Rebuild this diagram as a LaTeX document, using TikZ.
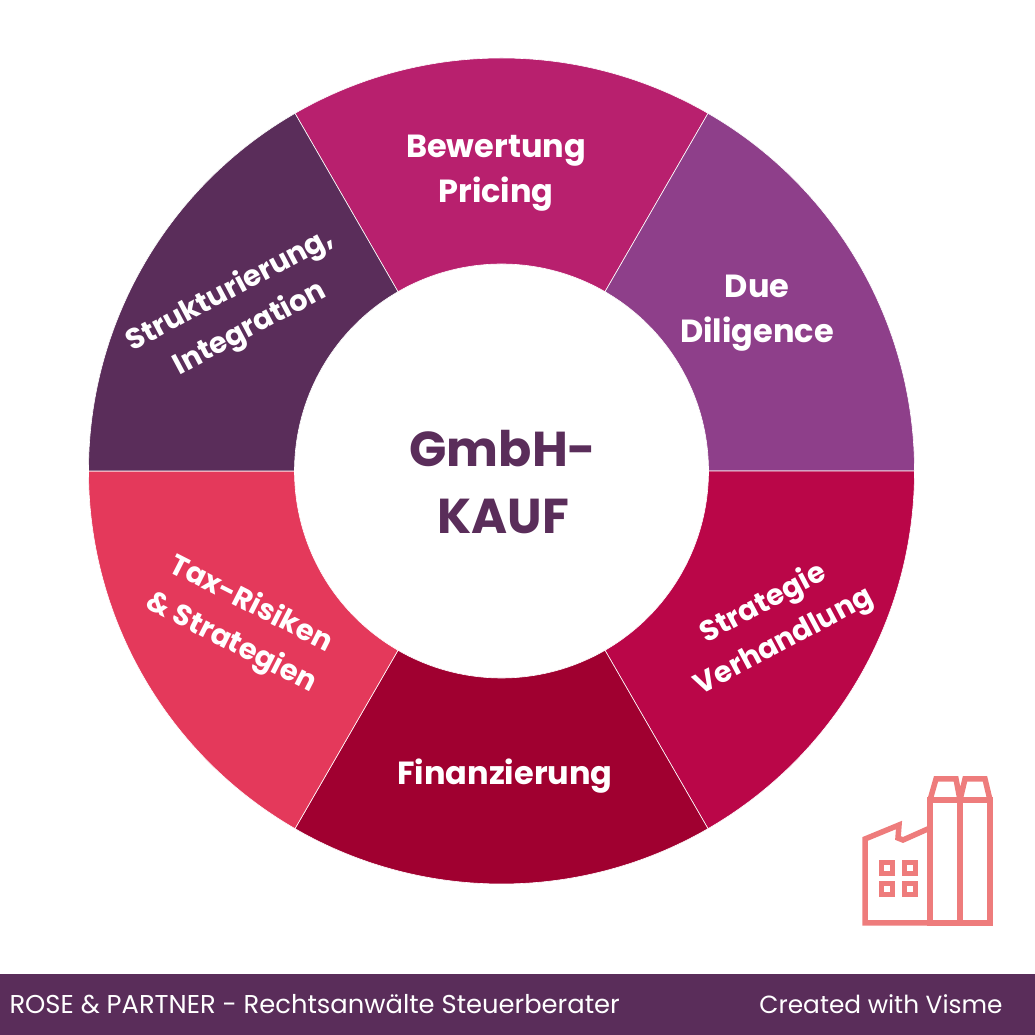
\documentclass[tikz,border=0pt]{standalone}
\usepackage{fontspec}
\setmainfont{Poppins}
\usetikzlibrary{calc}
\definecolor{plum}{HTML}{5A2D5A}
\definecolor{magenta}{HTML}{B8206E}
\definecolor{violet}{HTML}{8E3F8A}
\definecolor{crimson}{HTML}{BA0648}
\definecolor{wine}{HTML}{A00030}
\definecolor{coral}{HTML}{E4395B}
\definecolor{salmon}{HTML}{EE7C7C}
\begin{document}
\begin{tikzpicture}[x=1pt, y=1pt,
        segment/.style = {draw = white, line width = 0.6pt},
        label/.style = {text = white, align = center, font = \fontsize{32}{45}\selectfont\bfseries},
        tilted/.style = {text = white, align = center, font = \fontsize{29}{43}\selectfont\bfseries},
        icon/.style = {draw = salmon, line width = 5.5pt, miter limit = 4}]
    \useasboundingbox[] (0,0) rectangle (1035,1035);

    \coordinate (O) at (501.5,564);

    % ring
    \fill[magenta, segment] ($(O)+(60:413)$) arc (60:120:413) -- ($(O)+(120:207)$) arc (120:60:207) -- cycle;
    \fill[violet, segment] ($(O)+(0:413)$) arc (0:60:413) -- ($(O)+(60:207)$) arc (60:0:207) -- cycle;
    \fill[crimson, segment] ($(O)+(-60:413)$) arc (-60:0:413) -- ($(O)+(0:207)$) arc (0:-60:207) -- cycle;
    \fill[wine, segment] ($(O)+(-120:413)$) arc (-120:-60:413) -- ($(O)+(-60:207)$) arc (-60:-120:207) -- cycle;
    \fill[coral, segment] ($(O)+(-180:413)$) arc (-180:-120:413) -- ($(O)+(-120:207)$) arc (-120:-180:207) -- cycle;
    \fill[plum, segment] ($(O)+(120:413)$) arc (120:180:413) -- ($(O)+(180:207)$) arc (180:120:207) -- cycle;

    \node (bewertung) at (496,862) [label] {Bewertung\\Pricing};
    \node (diligence) at (757,722) [label] {Due\\Diligence};
    \node (strategie) at (774,412) [tilted, rotate = 28] {Strategie\\Verhandlung};
    \node (finanz) at (505,259) [label] {Finanzierung};
    \node (tax) at (241,411) [tilted, rotate = -27] {Tax-Risiken\\\& Strategien};
    \node (struktur) at (240,725) [tilted, rotate = 28] {Strukturierung,\\Integration};

    \node (centre) at (503,553) [align = center, text = plum, font = \fontsize{49}{67}\selectfont\bfseries] {GmbH-\\KAUF};

    % factory
    \draw[icon] (930,112) -- (865,112) -- (865,196) -- (899,210) -- (898,197) -- (903,195) -- (930,207);
    \draw[icon] (930,112) rectangle (960,235);
    \draw[icon] (960,112) rectangle (990,235);
    \draw[icon] (930,235) -- (936,256) -- (956,256) -- (960,235) -- (965,256) -- (985,256) -- (990,235);
    \draw[icon] (881.5,161.5) rectangle +(11,11);
    \draw[icon] (904.5,161.5) rectangle +(11,11);
    \draw[icon] (881.5,140.5) rectangle +(11,11);
    \draw[icon] (904.5,140.5) rectangle +(11,11);

    % footer
    \fill[plum] (0,0) rectangle (1035,61);
    \node (firm) at (6,31) [anchor = west, text = white, font = \fontsize{25.8}{28}\selectfont] {ROSE \& PARTNER - Rechtsanwälte Steuerberater};
    \node (visme) at (1006,31) [anchor = east, text = white, font = \fontsize{24.8}{28}\selectfont] {Created with Visme};
\end{tikzpicture}
\end{document}
